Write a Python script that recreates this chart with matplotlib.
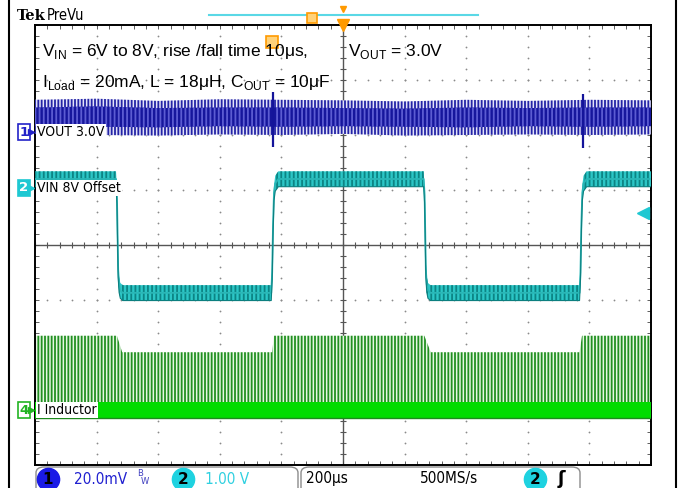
"""
Re-draw of a Tek scope capture: line transient of a buck converter
(VIN 6V <-> 8V steps, VOUT ripple, inductor current).
All traces are in screen units: time in us, amplitude in divisions.
"""

import matplotlib.pyplot as plt
import numpy as np
from matplotlib.lines import Line2D
from matplotlib.patches import FancyBboxPatch

plt.rcParams["mathtext.fontset"] = "custom"
plt.rcParams["mathtext.rm"] = "Liberation Sans"
plt.rcParams["hatch.linewidth"] = 1.3

W, H = 684, 488
US_PER_DIV = 200

# CH2 (VIN, 1 V/div, 8 V offset)
vin_t = [0, 263, 266, 270, 273, 277, 285, 767, 770, 773, 776, 780, 790,
         1262, 1265, 1269, 1272, 1276, 1284, 1768, 1771, 1774, 1777, 1781, 1791, 2000]
vin_div = [1.2, 1.2, 0.9, -0.45, -0.72, -0.83, -0.87, -0.87, -0.5, 0.4, 0.95, 1.12, 1.2,
           1.2, 0.9, -0.45, -0.72, -0.83, -0.87, -0.87, -0.5, 0.4, 0.95, 1.12, 1.2, 1.2]
vin_band = 0.14

# CH1 (VOUT ripple, 20 mV/div) envelope
vout_t = [0, 200, 400, 600, 800, 1000, 1200, 1400, 1600, 1800, 2000]
vout_top = [2.64, 2.66, 2.62, 2.65, 2.64, 2.63, 2.61, 2.64, 2.62, 2.64, 2.63]
vout_bot = [2.02, 2.0, 1.99, 2.01, 2.0, 2.02, 1.99, 2.0, 2.01, 2.0, 2.01]
vout_core_top = [2.5, 2.52, 2.49, 2.5, 2.5, 2.49, 2.48, 2.5, 2.49, 2.5, 2.5]
vout_core_bot = [2.16, 2.15, 2.14, 2.16, 2.15, 2.16, 2.15, 2.14, 2.16, 2.15, 2.16]
vout_glitch_t = [774, 1779]
vout_glitch_top = [2.78, 2.74]
vout_glitch_bot = [1.78, 1.76]

# CH4 (inductor current) peak envelope and baseline
il_t = [0, 266, 283, 770, 776, 1264, 1285, 1768, 1776, 2000]
il_peak = [-1.65, -1.65, -1.95, -1.95, -1.65, -1.65, -1.95, -1.95, -1.65, -1.65]
il_base = -3.0
il_band = 0.14

# channel reference markers (divisions)
ch_labels = ["VOUT 3.0V", "VIN 8V Offset", "I Inductor"]
ch_marks = ["1", "2", "4"]
ch_levels = [2.05, 1.04, -3.0]
ch_colors = ["#2222c8", "#1ec8d2", "#22b422"]
trig_level = 0.58

NOTE_FONT = "Liberation Sans"


def fx(px):
    return px / W


def fy(py):
    return 1 - py / H


fig = plt.figure(figsize=(W / 100, H / 100), dpi=100)
ax = fig.add_axes([fx(35), fy(465), fx(651) - fx(35), fy(25) - fy(465)])
ax.set_xlim(0, 10 * US_PER_DIV)
ax.set_ylim(-4, 4)
ax.set_xticks([])
ax.set_yticks([])
ax.set_xticks(np.arange(0, 2001, 40), minor=True)
ax.set_yticks(np.arange(-4, 4.01, 0.2), minor=True)
ax.tick_params(which="minor", direction="in", length=3, top=True, right=True,
               labelbottom=False, labelleft=False, color="#444444")
for spine in ax.spines.values():
    spine.set_linewidth(1.4)

# dotted graticule
grid_kw = dict(ls="none", marker="o", ms=1.3, mew=0, color="#8a8a8a", zorder=1)
for x in range(US_PER_DIV, 2000, US_PER_DIV):
    if x != 1000:
        ys = np.arange(-4, 4.01, 0.2)
        ax.plot(np.full(len(ys), x), ys, **grid_kw)
for y in range(-3, 4):
    if y != 0:
        xs = np.arange(0, 2001, 40)
        ax.plot(xs, np.full(len(xs), y), **grid_kw)
ax.axhline(0, color="#555555", lw=1.0, zorder=1)
ax.axvline(1000, color="#555555", lw=1.0, zorder=1)
xs = np.arange(0, 2001, 40)
ax.plot(xs, np.zeros(len(xs)), ls="none", marker="|", ms=5, mew=0.8, color="#555555", zorder=1)
ys = np.arange(-4, 4.01, 0.2)
ax.plot(np.full(len(ys), 1000), ys, ls="none", marker="_", ms=5, mew=0.8, color="#555555", zorder=1)

# CH4 inductor current
ax.fill_between(il_t, il_base, il_peak, facecolor="#e6f7e3", edgecolor="#218f21",
                hatch="|||||", linewidth=0, zorder=2)
ax.fill_between([0, 2000], il_base - il_band, il_base + il_band,
                color="#00dc00", zorder=3, linewidth=0)
ax.axhline(il_base - il_band, color="#1d8a1d", lw=1.0, zorder=3)

# CH1 VOUT
ax.fill_between(vout_t, vout_bot, vout_top, facecolor="#e2e2f8", edgecolor="#2424a6",
                hatch="|||||", linewidth=0, zorder=4)
ax.fill_between(vout_t, vout_core_bot, vout_core_top, facecolor="#16169c",
                edgecolor="#5c5cd2", hatch="||||", linewidth=0, zorder=5)
ax.vlines(vout_glitch_t, vout_glitch_bot, vout_glitch_top, color="#14149a", lw=1.6, zorder=5)

# CH2 VIN
vin = np.array(vin_div)
ax.fill_between(vin_t, vin - vin_band, vin + vin_band, facecolor="#2cc6c6",
                edgecolor="#0c8484", hatch="||||", linewidth=0, zorder=6)
ax.plot(vin_t, vin, color="#2ab6b6", lw=1.3, zorder=6)
ax.plot(vin_t, vin - vin_band, color="#0c7f7f", lw=0.8, zorder=6)

# trigger markers
ax.plot([1000], [4], marker="v", ms=8, color="#ff9a00", clip_on=False, zorder=10)
ax.plot([770], [3.7], marker="s", ms=9, mfc="#ffd27a", mec="#ff9a00", mew=1.2, zorder=9)
ax.plot([1975], [trig_level], marker="<", ms=9, color="#1ec8d2", zorder=9)

# channel labels and markers
for label, mark, lev, col in zip(ch_labels, ch_marks, ch_levels, ch_colors):
    ax.text(8, lev, label, fontsize=10, va="center", ha="left", color="black",
            family="DejaVu Sans", fontstretch="condensed", zorder=12,
            bbox=dict(boxstyle="square,pad=0.08", fc="white", ec="none"))
    filled = mark == "2"
    ax.annotate(mark, xy=(-36, lev), xycoords="data", fontsize=9.5, ha="center", va="center",
                color="white" if filled else col, annotation_clip=False, zorder=12,
                family="DejaVu Sans", fontweight="bold",
                bbox=dict(boxstyle="square,pad=0.12", fc=col if filled else "white", ec=col, lw=1.2))
    ax.plot([-14], [lev], marker=">", ms=5, color=col, clip_on=False, zorder=12)

# annotations
fig.text(fx(42), fy(56), r"V$_{\mathrm{IN}}$ = 6V to 8V, rise /fall time 10μs,",
         fontsize=12.5, family=NOTE_FONT, va="baseline", zorder=8)
fig.text(fx(42), fy(87), r"I$_{\mathrm{Load}}$ = 20mA, L = 18μH, C$_{\mathrm{OUT}}$ = 10μF",
         fontsize=12.5, family=NOTE_FONT, va="baseline", zorder=8)
fig.text(fx(348), fy(56), r"V$_{\mathrm{OUT}}$ = 3.0V",
         fontsize=12.5, family=NOTE_FONT, va="baseline", zorder=8)

# header
fig.text(fx(17), fy(20), "Tek", fontsize=10.5, fontweight="bold", family="DejaVu Serif",
         va="baseline")
fig.text(fx(47), fy(20), "PreVu", fontsize=10.5, family="DejaVu Sans",
         fontstretch="condensed", va="baseline")
fig.add_artist(Line2D([fx(209), fx(478)], [fy(15), fy(15)], color="#5ad8e6", lw=1.5))
fig.add_artist(Line2D([fx(312)], [fy(18)], marker="s", ms=7, mfc="#ffd27a",
                      mec="#ff9a00", mew=1.2, ls="none"))
fig.add_artist(Line2D([fx(343)], [fy(9)], marker="v", ms=5, color="#ff9a00", ls="none"))

# outer frame lines
fig.add_artist(Line2D([fx(9), fx(9)], [0, 1], color="black", lw=1.5))
fig.add_artist(Line2D([fx(676), fx(676)], [0, 1], color="black", lw=1.5))

# status bar
for x0, x1 in [(36, 298), (301, 580)]:
    fig.add_artist(FancyBboxPatch((fx(x0), fy(495)), fx(x1) - fx(x0), fy(467) - fy(495),
                                  boxstyle="round,pad=0,rounding_size=0.012",
                                  transform=fig.transFigure, fc="white", ec="#8c8c8c", lw=1.0))

status_y = fy(479)
for px, mark, col in [(48, "1", "#1a1ae6"), (183, "2", "#1ed2e0"), (535, "2", "#1ed2e0")]:
    fig.add_artist(Line2D([fx(px)], [status_y], marker="o", ms=16, color=col, ls="none"))
    fig.text(fx(px), status_y, mark, fontsize=11, ha="center", va="center",
             family="DejaVu Sans", fontweight="bold", color="black")

st_kw = dict(fontsize=11, va="center", family="DejaVu Sans", fontstretch="condensed")
fig.text(fx(74), status_y, "20.0mV", color="#2020d0", **st_kw)
fig.text(fx(137), fy(474), "B", fontsize=6, color="#4040c0", va="center", family="DejaVu Sans")
fig.text(fx(141), fy(481), "W", fontsize=6, color="#4040c0", va="center", family="DejaVu Sans")
fig.text(fx(205), status_y, "1.00 V", color="#30d0e0", **st_kw)
fig.text(fx(306), status_y, "200μs", color="black", **st_kw)
fig.text(fx(420), status_y, "500MS/s", color="black", **st_kw)
fig.text(fx(558), status_y, "ʃ", fontsize=13, fontweight="bold", va="center",
         family="DejaVu Sans", color="black")

fig.savefig("out.png", dpi=100)
